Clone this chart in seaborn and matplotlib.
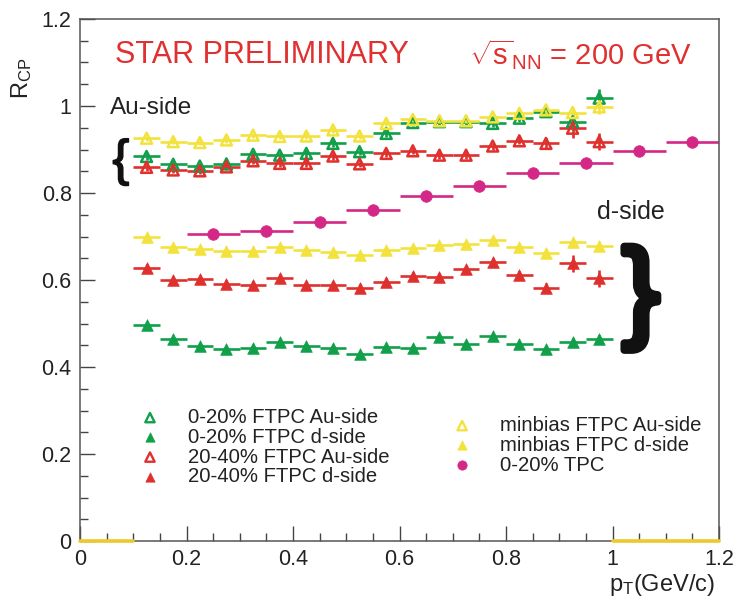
import numpy as np
import pandas as pd
import matplotlib
matplotlib.use("Agg")
import matplotlib.pyplot as plt
import matplotlib.patheffects as pe
from matplotlib.ticker import MultipleLocator
import seaborn as sns

# transverse momentum bins (GeV/c)
pt_ftpc = [0.125, 0.175, 0.225, 0.275, 0.325, 0.375, 0.425, 0.475, 0.525,
           0.575, 0.625, 0.675, 0.725, 0.775, 0.825, 0.875, 0.925, 0.975]
pt_tpc = [0.25, 0.35, 0.45, 0.55, 0.65, 0.75, 0.85, 0.95, 1.05, 1.15]
ftpc_halfwidth = 0.025
tpc_halfwidth = 0.05

# R_CP, FTPC Au-side (open triangles)
au_0_20 = [0.884, 0.866, 0.862, 0.867, 0.889, 0.887, 0.891, 0.914, 0.895,
           0.937, 0.962, 0.964, 0.964, 0.960, 0.972, 0.987, 0.964, 1.018]
au_20_40 = [0.859, 0.853, 0.851, 0.860, 0.874, 0.868, 0.868, 0.885, 0.867,
            0.891, 0.897, 0.887, 0.887, 0.908, 0.920, 0.914, 0.949, 0.918]
au_minbias = [0.926, 0.918, 0.916, 0.922, 0.933, 0.930, 0.931, 0.945, 0.931,
              0.960, 0.969, 0.966, 0.966, 0.975, 0.983, 0.991, 0.985, 0.998]

# R_CP, FTPC d-side (filled triangles)
d_0_20 = [0.497, 0.464, 0.449, 0.441, 0.444, 0.457, 0.449, 0.444, 0.431,
          0.447, 0.443, 0.468, 0.454, 0.471, 0.454, 0.441, 0.457, 0.464]
d_20_40 = [0.628, 0.600, 0.602, 0.591, 0.589, 0.605, 0.588, 0.588, 0.582,
           0.596, 0.610, 0.608, 0.625, 0.642, 0.611, 0.581, 0.638, 0.604]
d_minbias = [0.700, 0.677, 0.671, 0.667, 0.667, 0.677, 0.669, 0.665, 0.657,
             0.669, 0.674, 0.680, 0.682, 0.692, 0.677, 0.663, 0.687, 0.679]

# R_CP, TPC mid-rapidity 0-20%
tpc_0_20 = [0.705, 0.713, 0.734, 0.762, 0.792, 0.816, 0.847, 0.870, 0.897, 0.918]

# statistical errors
err_au_0_20 = [0.008] * 15 + [0.012, 0.020, 0.022]
err_au_20_40 = [0.008] * 15 + [0.012, 0.022, 0.020]
err_au_minbias = [0.006] * 15 + [0.010, 0.012, 0.016]
err_d_0_20 = [0.006] * 15 + [0.008, 0.010, 0.010]
err_d_20_40 = [0.008] * 14 + [0.010, 0.012, 0.020, 0.020]
err_d_minbias = [0.006] * 15 + [0.008, 0.010, 0.010]
err_tpc = [0.006] * 10

# empty-bin segments of the minbias histogram on the axis
empty_lo = [0.0, 0.1]
empty_hi = [1.0, 1.2]
empty_val = [0.0, 0.0]

GREEN = "#10a04a"
RED = "#e0302e"
YELLOW = "#f3e23c"
MAGENTA = "#d42886"

sns.set_theme(style="white")
plt.rcParams["font.family"] = ["Liberation Sans", "DejaVu Sans"]
plt.rcParams["mathtext.fontset"] = "custom"
plt.rcParams["mathtext.rm"] = "Liberation Sans"
plt.rcParams["mathtext.it"] = "Liberation Sans:italic"
plt.rcParams["mathtext.sf"] = "Liberation Sans"

W, H = 739, 608
fig = plt.figure(figsize=(W / 100, H / 100), dpi=100)
ax = fig.add_axes([80 / W, 1 - 541 / H, 639 / W, 522 / H])

series = [
    (pt_ftpc, au_0_20, err_au_0_20, ftpc_halfwidth, GREEN, "^", True),
    (pt_ftpc, au_20_40, err_au_20_40, ftpc_halfwidth, RED, "^", True),
    (pt_ftpc, au_minbias, err_au_minbias, ftpc_halfwidth, YELLOW, "^", True),
    (pt_ftpc, d_0_20, err_d_0_20, ftpc_halfwidth, GREEN, "^", False),
    (pt_ftpc, d_20_40, err_d_20_40, ftpc_halfwidth, RED, "^", False),
    (pt_ftpc, d_minbias, err_d_minbias, ftpc_halfwidth, YELLOW, "^", False),
    (pt_tpc, tpc_0_20, err_tpc, tpc_halfwidth, MAGENTA, "o", False),
]

for x, y, yerr, hw, col, mk, hollow in series:
    ax.errorbar(x, y, xerr=hw, yerr=yerr, fmt="none", ecolor=col,
                elinewidth=1.9, capsize=0, zorder=2)
    df = pd.DataFrame({"pt": x, "rcp": y})
    if hollow:
        sns.scatterplot(data=df, x="pt", y="rcp", ax=ax, marker=mk, s=62,
                        color=col, facecolors="none", edgecolor=col,
                        linewidth=1.8, zorder=3, legend=False)
    else:
        sns.scatterplot(data=df, x="pt", y="rcp", ax=ax, marker=mk, s=70,
                        color=col, edgecolor=col, linewidth=0.5,
                        zorder=3, legend=False)

ax.plot(empty_lo, empty_val, color="#ecc92c", lw=2.6, clip_on=False, zorder=4)
ax.plot(empty_hi, empty_val, color="#ecc92c", lw=2.6, clip_on=False, zorder=4)

ax.set_xlim(0, 1.2)
ax.set_ylim(0, 1.2)
ax.set_xlabel("")
ax.set_ylabel("")
ax.xaxis.set_minor_locator(MultipleLocator(0.05))
ax.yaxis.set_minor_locator(MultipleLocator(0.05))
ax.set_xticks([0, 0.2, 0.4, 0.6, 0.8, 1.0, 1.2])
ax.set_xticklabels(["0", "0.2", "0.4", "0.6", "0.8", "1", "1.2"])
ax.set_yticks([0, 0.2, 0.4, 0.6, 0.8, 1.0, 1.2])
ax.set_yticklabels(["0", "0.2", "0.4", "0.6", "0.8", "1", "1.2"])
ax.tick_params(which="both", direction="in", color="#444444", width=1.0,
               bottom=True, left=True, top=False, right=False,
               labelsize=15.5, labelcolor="#222222", pad=6)
ax.tick_params(which="major", length=11)
ax.tick_params(which="minor", length=5.5)
for sp in ax.spines.values():
    sp.set_color("#555555")
    sp.set_linewidth(1.1)

# annotations
ax.text(0.055, 0.931, "STAR PRELIMINARY", transform=ax.transAxes,
        color="#e03030", fontsize=22, ha="left", va="center")
ax.text(0.608, 0.931, r"$\sqrt{\mathrm{s}}_{\mathrm{NN}}$ = 200 GeV",
        transform=ax.transAxes, color="#e03030", fontsize=21,
        ha="left", va="center")
ax.text(0.047, 0.83, "Au-side", transform=ax.transAxes, color="#222222",
        fontsize=17.5, ha="left", va="center")
ax.text(0.809, 0.63, "d-side", transform=ax.transAxes, color="#222222",
        fontsize=18, ha="left", va="center")
ax.text(0.064, 0.726, "{", transform=ax.transAxes, color="#111111",
        fontsize=36, ha="center", va="center",
        path_effects=[pe.withStroke(linewidth=1.2, foreground="#111111")])
ax.text(0.878, 0.4655, "}", transform=ax.transAxes, color="#111111",
        fontsize=80, ha="center", va="center",
        path_effects=[pe.withStroke(linewidth=5.5, foreground="#111111")])

# legend
legend_left = [
    (GREEN, "^", True, "0-20% FTPC Au-side"),
    (GREEN, "^", False, "0-20% FTPC d-side"),
    (RED, "^", True, "20-40% FTPC Au-side"),
    (RED, "^", False, "20-40% FTPC d-side"),
]
legend_right = [
    (YELLOW, "^", True, "minbias FTPC Au-side"),
    (YELLOW, "^", False, "minbias FTPC d-side"),
    (MAGENTA, "o", False, "0-20% TPC"),
]
for (mx, tx, y0, entries) in [(0.1095, 0.169, 0.2364, legend_left),
                              (0.598, 0.657, 0.221, legend_right)]:
    for i, (col, mk, hollow, lab) in enumerate(entries):
        yy = y0 - i * 0.0378
        ax.scatter([mx], [yy], transform=ax.transAxes, marker=mk, s=45,
                   facecolors="none" if hollow else col, edgecolors=col,
                   linewidths=1.7 if hollow else 0.5, zorder=5, clip_on=False)
        ax.text(tx, yy, lab, transform=ax.transAxes, fontsize=14.6,
                color="#222222", ha="left", va="center")

fig.text(22 / W, 1 - 78 / H, r"R$_{\mathrm{CP}}$", rotation=90,
         fontsize=17, color="#222222", ha="center", va="center")
fig.text(715 / W, 1 - 585 / H, r"p$_{\mathrm{T}}$(GeV/c)", fontsize=17,
         color="#222222", ha="right", va="center")

fig.savefig("out.png", dpi=100, facecolor="white")
